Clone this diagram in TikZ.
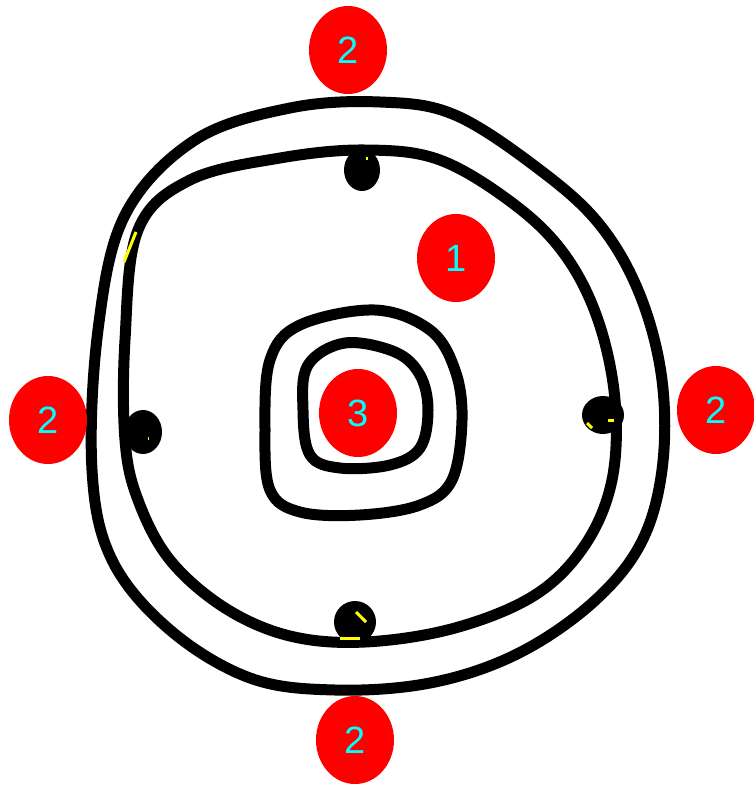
\documentclass[tikz,border=0pt]{standalone}
\usepackage{fontspec}
\setmainfont{Liberation Sans}
\usetikzlibrary{positioning,shapes}
\definecolor{spotred}{RGB}{255,0,0}
\definecolor{digitcyan}{RGB}{0,255,255}
\definecolor{fleckyellow}{RGB}{255,255,0}
\begin{document}
\begin{tikzpicture}[x=1pt,y=-1pt,
    ring/.style={draw=black, line width=11pt, line join=round},
    blob/.style={fill=black},
    spot/.style={shape=ellipse, fill=spotred, text=digitcyan, inner sep=0pt,
      minimum width=78pt, minimum height=88pt, font=\fontsize{38}{40}\selectfont},
    fleck/.style={draw=fleckyellow, line width=3pt}]
    \useasboundingbox (0,0) rectangle (754,790);
    % outer ring
    \draw[ring] plot[smooth cycle, tension=0.6] coordinates {
      (92,470) (98,330) (125,215) (195,140) (290,108) (380,102) (455,115)
      (540,170) (600,225) (640,295) (662,380) (662,470) (640,545) (590,605)
      (515,655) (430,683) (335,690) (250,678) (170,630) (112,560)};
    % inner ring
    \draw[ring] plot[smooth cycle, tension=0.6] coordinates {
      (125,440) (125,340) (138,230) (190,180) (280,158) (365,150) (440,160)
      (515,205) (565,255) (598,320) (615,400) (612,480) (585,545) (535,595)
      (455,628) (365,642) (290,636) (225,608) (170,560) (138,500)};
    % middle rings
    \draw[ring] plot[smooth cycle, tension=0.6] coordinates {
      (375,310) (430,330) (455,370) (462,420) (452,480) (420,505) (360,515)
      (300,512) (270,490) (265,430) (270,360) (300,325)};
    \draw[ring] plot[smooth cycle, tension=0.6] coordinates {
      (345,343) (395,352) (420,375) (428,410) (420,448) (390,465) (340,468)
      (310,455) (303,410) (308,365)};
    % blobs
    \fill[blob] (362,170) ellipse (18pt and 21pt);
    \fill[blob] (143,432) ellipse (19pt and 22pt);
    \fill[blob] (603,415) ellipse (21pt and 19pt);
    \fill[blob] (355,622) ellipse (21pt and 21pt);
    % yellow flecks
    \draw[fleck] (124,262) -- (136,232);
    \draw[fleck] (366,158) -- (368,158);
    \draw[fleck] (148,438) -- (149,438);
    \draw[fleck] (608,420) -- (614,420);
    \draw[fleck] (587,423) -- (592,428);
    \draw[fleck] (356,612) -- (366,622);
    \draw[fleck] (340,638) -- (360,638);
    % labels
    \node[spot] (top) at (348,50) {2};
    \node[spot] (one) at (456,258) {1};
    \node[spot] (left) at (48,420) {2};
    \node[spot] (right) at (716,410) {2};
    \node[spot] (three) at (358,413) {3};
    \node[spot] (bottom) at (355,740) {2};
\end{tikzpicture}
\end{document}
